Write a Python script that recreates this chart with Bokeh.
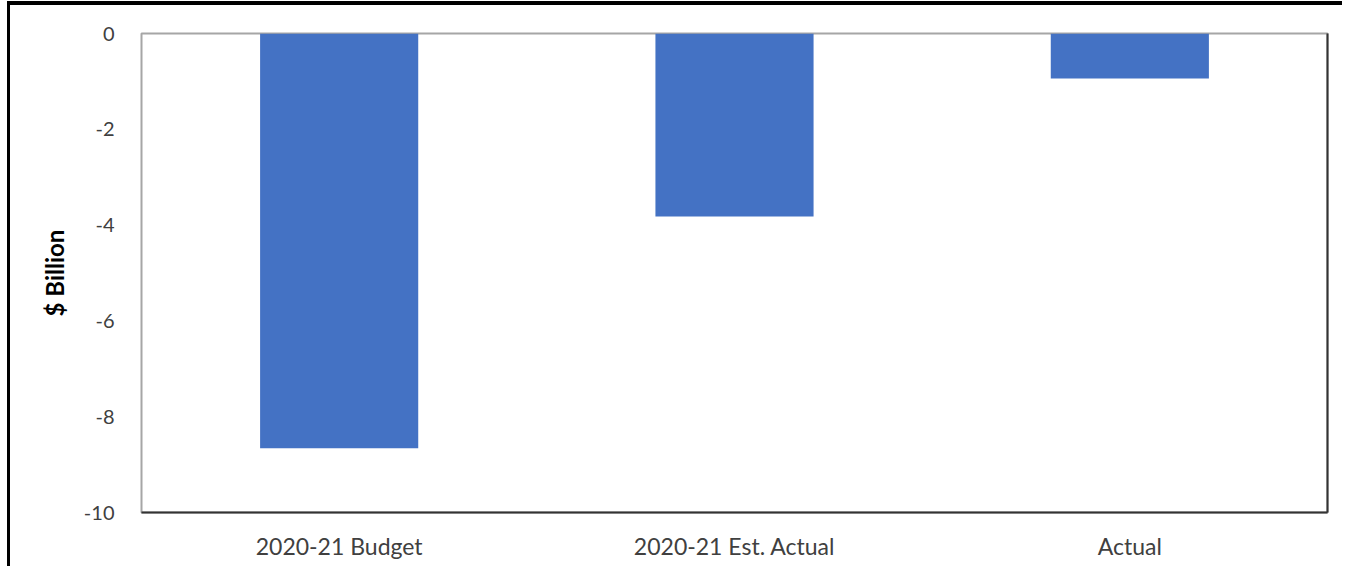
from bokeh.plotting import figure
from bokeh.models import Range1d, FixedTicker, LinearAxis
from bokeh.embed import file_html
from bokeh.resources import INLINE

categories = ["2020-21 Budget", "2020-21 Est. Actual", "Actual"]
values = [-8.66, -3.82, -0.94]
y_ticks = [0, -2, -4, -6, -8, -10]
y_tick_labels = {0: "0", -2: "-2", -4: "-4", -6: "-6", -8: "-8", -10: "-10"}

p = figure(x_range=categories, y_range=Range1d(-10, 0), width=1335, height=565,
           output_backend="svg", toolbar_location=None,
           min_border_left=131, min_border_top=28, min_border_right=18, min_border_bottom=58)
p.styles = {"border-top": "4px solid #000000", "border-left": "3px solid #000000",
            "margin-left": "7px", "margin-top": "1px"}

p.vbar(x=categories, top=values, bottom=0, width=0.4, color="#4472C4", line_color=None)

p.xgrid.grid_line_color = None
p.ygrid.grid_line_color = None
p.outline_line_color = "#a6a6a6"
p.outline_line_width = 2

font = "Lato"
p.yaxis.ticker = FixedTicker(ticks=y_ticks)
p.yaxis.major_label_overrides = y_tick_labels
p.yaxis.axis_line_color = None
p.yaxis.major_tick_line_color = None
p.yaxis.minor_tick_line_color = None
p.yaxis.major_label_standoff = 21
p.yaxis.major_label_text_font = font
p.yaxis.major_label_text_font_size = "20px"
p.yaxis.major_label_text_color = "#404040"
p.yaxis.axis_label = "$ Billion"
p.yaxis.axis_label_text_font = font
p.yaxis.axis_label_text_font_style = "bold"
p.yaxis.axis_label_text_font_size = "24px"
p.yaxis.axis_label_text_color = "#000000"
p.yaxis.axis_label_standoff = 12

p.xaxis.axis_line_color = "#333333"
p.xaxis.axis_line_width = 2
p.xaxis.major_tick_line_color = None
p.xaxis.minor_tick_line_color = None
p.xaxis.major_label_standoff = 13
p.xaxis.major_label_text_font = font
p.xaxis.major_label_text_font_size = "23px"
p.xaxis.major_label_text_color = "#404040"

right = LinearAxis(ticker=FixedTicker(ticks=[]), axis_line_color="#333333", axis_line_width=2,
                   major_tick_line_color=None, minor_tick_line_color=None,
                   major_label_text_font_size="0px")
p.add_layout(right, "right")

open("out.html", "w").write(file_html(p, INLINE))
